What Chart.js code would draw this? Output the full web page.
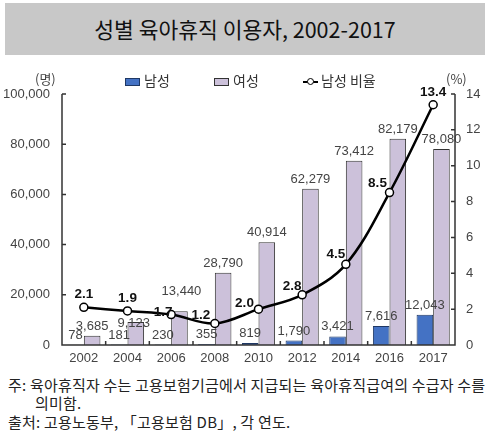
<!DOCTYPE html>
<html><head><meta charset="utf-8">
<script src="https://cdn.jsdelivr.net/npm/chart.js@4.4.1/dist/chart.umd.min.js"></script>
<style>
body{margin:0;background:#fff;font-family:"Noto Sans CJK KR","Liberation Sans",sans-serif;}
#wrap{position:relative;width:500px;height:437px;overflow:hidden;}
#title{position:absolute;left:5px;top:3px;width:480px;height:52px;background:#c8c8c8;text-align:center;line-height:52px;font-size:21.5px;color:#111;}
#cv{position:absolute;left:0;top:60px;}
.lg{position:absolute;top:71px;font-size:14px;color:#333;line-height:18px;}
.unit{position:absolute;top:69px;font-size:13px;color:#444;}
.note{position:absolute;left:8px;font-size:15px;letter-spacing:0.2px;color:#222;white-space:nowrap;line-height:18px;}
</style></head>
<body><div id="wrap">
<div id="title">성별 육아휴직 이용자, 2002-2017</div>
<canvas id="cv" width="500" height="310"></canvas>
<div class="unit" style="left:35px">(명)</div>
<div class="unit" style="left:446px">(%)</div>
<div class="lg" style="left:125px"><span style="display:inline-block;width:13px;height:6px;background:#4472c4;border:1px solid #1f3864;vertical-align:middle;margin-right:4px"></span>남성</div>
<div class="lg" style="left:214px"><span style="display:inline-block;width:13px;height:6px;background:#ccc1da;border:1px solid #333;vertical-align:middle;margin-right:4px"></span>여성</div>
<div class="lg" style="left:303px"><span style="display:inline-block;position:relative;width:15px;height:10px;vertical-align:middle;margin-right:3px"><span style="position:absolute;left:0;top:4px;width:15px;height:2px;background:#000"></span><span style="position:absolute;left:4px;top:1px;width:5px;height:5px;border:1.5px solid #000;border-radius:50%;background:#fff"></span></span>남성 비율</div>
<div class="note" style="top:376px">주: 육아휴직자 수는 고용보험기금에서 지급되는 육아휴직급여의 수급자 수를</div>
<div class="note" style="top:394px;left:35px">의미함.</div>
<div class="note" style="top:413px">출처: 고용노동부, 「고용보험 DB」, 각 연도.</div>
</div>
<script>
const years = ['2002','2004','2006','2008','2010','2012','2014','2016','2017'];
const male = [78,181,230,355,819,1790,3421,7616,12043];
const female = [3685,9123,13440,28790,40914,62279,73412,82179,78080];
const maleRatio = [2.1,1.9,1.7,1.2,2.0,2.8,4.5,8.5,13.4];
const leftTicks = [0,20000,40000,60000,80000,100000];
const rightTicks = [0,2,4,6,8,10,12,14];

const fmt = v => v.toLocaleString('en-US');
const ratioLabelOffset = [[0,-13],[0,-13],[-8,-2],[-14,-8],[-14,-6],[-10,-9],[-10,-10],[-12,-9],[0,-12]];
const femaleLabelOffset = [[0,0],[-2,11],[2,-10],[0,0],[0,0],[0,0],[0,0],[0,0],[0,0]];

const labelPlugin = {
  id:'labels',
  afterDatasetsDraw(chart){
    const ctx = chart.ctx;
    ctx.save();
    ctx.textAlign='center'; ctx.textBaseline='bottom';
    ctx.font='13px "Liberation Sans", sans-serif';
    ctx.fillStyle='#444';
    [0,1].forEach(di=>{
      const meta = chart.getDatasetMeta(di);
      meta.data.forEach((b,i)=>{
        const o = di===1 ? femaleLabelOffset[i] : [0,0];
        ctx.fillText(fmt(chart.data.datasets[di].data[i]), b.x+o[0], b.y-3+o[1]);
      });
    });
    const lm = chart.getDatasetMeta(2);
    ctx.font='bold 13.5px "Liberation Sans", sans-serif';
    ctx.fillStyle='#111';
    ctx.textBaseline='middle';
    lm.data.forEach((p,i)=>{
      const o = ratioLabelOffset[i];
      ctx.fillText(maleRatio[i].toFixed(1), p.x+o[0], p.y+o[1]);
    });
    ctx.restore();
  },
  afterDraw(chart){
    const ctx = chart.ctx, ca = chart.chartArea;
    ctx.save();
    ctx.strokeStyle='#333'; ctx.lineWidth=1.5;
    ctx.beginPath();
    ctx.moveTo(ca.left, ca.top); ctx.lineTo(ca.left, ca.bottom); ctx.lineTo(ca.right, ca.bottom); ctx.lineTo(ca.right, ca.top);
    const y = chart.scales.y, y1 = chart.scales.y1;
    leftTicks.forEach(t=>{const py=y.getPixelForValue(t); ctx.moveTo(ca.left,py); ctx.lineTo(ca.left+4,py);});
    rightTicks.forEach(t=>{const py=y1.getPixelForValue(t); ctx.moveTo(ca.right,py); ctx.lineTo(ca.right-4,py);});
    const w = (ca.right-ca.left)/years.length;
    for(let i=1;i<years.length;i++){const px=ca.left+w*i; ctx.moveTo(px,ca.bottom); ctx.lineTo(px,ca.bottom-4);}
    ctx.stroke();
    ctx.restore();
  }
};

new Chart(document.getElementById('cv'),{
  data:{labels:years,datasets:[
    {type:'bar',label:'남성',data:male,backgroundColor:'#4472c4',borderColor:'#1f3864',borderWidth:1,yAxisID:'y',categoryPercentage:0.76,barPercentage:1,order:2},
    {type:'bar',label:'여성',data:female,backgroundColor:'#ccc1da',borderColor:'#333',borderWidth:1,yAxisID:'y',categoryPercentage:0.76,barPercentage:1,order:2},
    {type:'line',label:'남성 비율',data:maleRatio,yAxisID:'y1',borderColor:'#000',borderWidth:2.5,pointRadius:4,pointBackgroundColor:'#fff',pointBorderColor:'#000',pointBorderWidth:1.5,tension:0.35,order:1}
  ]},
  options:{
    responsive:false,animation:false,
    layout:{padding:{top:34,bottom:0,left:0,right:0}},
    plugins:{legend:{display:false},tooltip:{enabled:false}},
    scales:{
      x:{offset:true,grid:{display:false,drawTicks:false},border:{display:false},
         ticks:{padding:6,color:'#444',font:{size:13,family:'"Liberation Sans", sans-serif'}},
         afterFit(s){s.height=25;}},
      y:{position:'left',min:0,max:100000,grid:{display:false,drawTicks:false},border:{display:false},
         afterBuildTicks(s){s.ticks=leftTicks.map(v=>({value:v}));},
         ticks:{padding:12,color:'#444',font:{size:13,family:'"Liberation Sans", sans-serif'},callback:v=>fmt(v)},
         afterFit(s){s.width=62;}},
      y1:{position:'right',min:0,max:14,grid:{display:false,drawTicks:false},border:{display:false},
         afterBuildTicks(s){s.ticks=rightTicks.map(v=>({value:v}));},
         ticks:{padding:11,color:'#444',font:{size:13,family:'"Liberation Sans", sans-serif'}},
         afterFit(s){s.width=45;}}
    }
  },
  plugins:[labelPlugin]
});
</script></body></html>
